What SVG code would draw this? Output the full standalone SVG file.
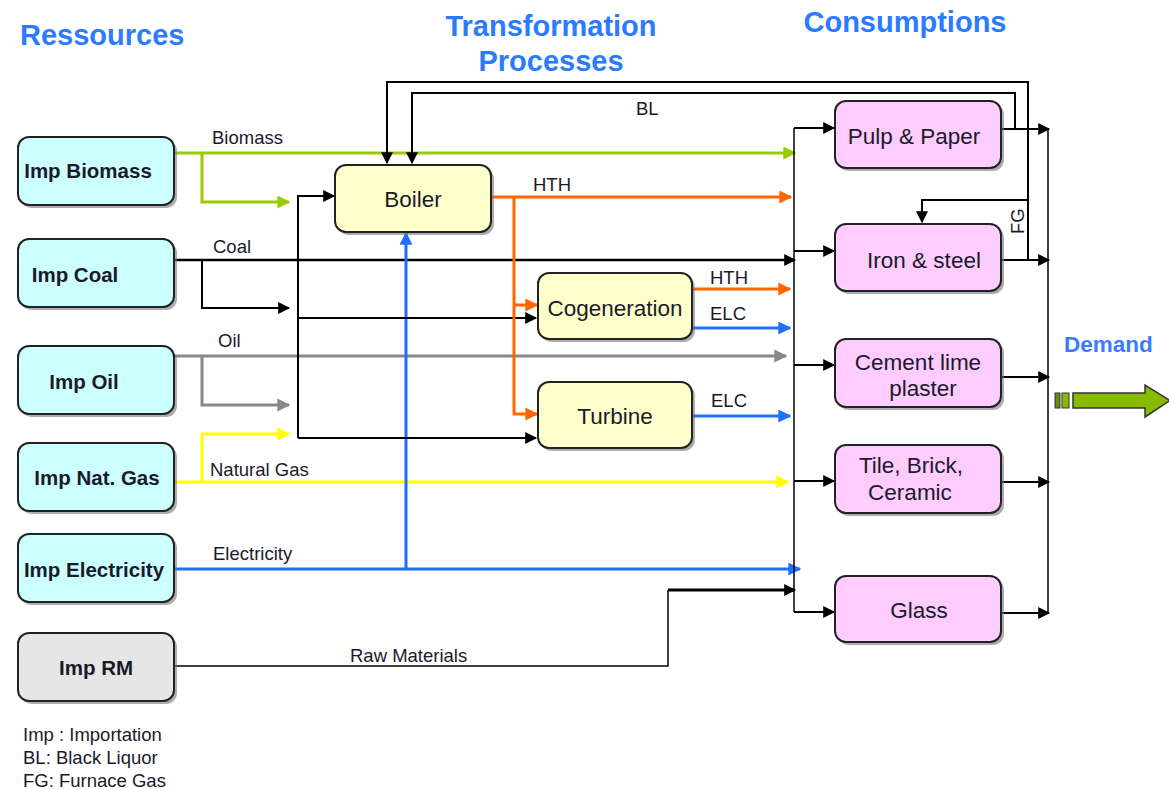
<svg xmlns="http://www.w3.org/2000/svg" width="1169" height="790" viewBox="0 0 1169 790">
  <style>
    text { font-family: "Liberation Sans", Arial, sans-serif; fill: #1a1a2a; }
    .title { font-size: 29px; font-weight: bold; fill: #2a7bff; }
    .src text, .srcrm text { font-size: 20.5px; font-weight: bold; text-anchor: middle; }
    .proc text, .cons text { font-size: 22.5px; text-anchor: middle; }
    .lbl { font-size: 18.5px; }
    .legend { font-size: 18.5px; }
    .box { stroke: #222; stroke-width: 2; }
    .shadow { fill: #777; opacity: 0.6; }
    .src .box { fill: #ccffff; }
    .srcrm .box { fill: #e6e6e6; }
    .proc .box { fill: #ffffcc; }
    .cons .box { fill: #ffccff; }
    .connectors path, .connectors line { fill: none; }
    .k { stroke: #000; stroke-width: 2; }
    .kt { stroke: #000; stroke-width: 1.5; }
    .g { stroke: #99cc00; stroke-width: 3; }
    .o { stroke: #ff6600; stroke-width: 3; }
    .b { stroke: #1f6fff; stroke-width: 3; }
    .y { stroke: #ffff00; stroke-width: 3; }
    .gr { stroke: #888; stroke-width: 3; }
  </style>
  <defs>
    <marker id="ak" viewBox="0 0 10 10" refX="9" refY="5" markerWidth="13" markerHeight="12" markerUnits="userSpaceOnUse" orient="auto"><path d="M0,0 L10,5 L0,10 z" fill="#000"/></marker>
    <marker id="ag" viewBox="0 0 10 10" refX="9" refY="5" markerWidth="13" markerHeight="13" markerUnits="userSpaceOnUse" orient="auto"><path d="M0,0 L10,5 L0,10 z" fill="#99cc00"/></marker>
    <marker id="ao" viewBox="0 0 10 10" refX="9" refY="5" markerWidth="13" markerHeight="13" markerUnits="userSpaceOnUse" orient="auto"><path d="M0,0 L10,5 L0,10 z" fill="#ff6600"/></marker>
    <marker id="ab" viewBox="0 0 10 10" refX="9" refY="5" markerWidth="13" markerHeight="13" markerUnits="userSpaceOnUse" orient="auto"><path d="M0,0 L10,5 L0,10 z" fill="#1f6fff"/></marker>
    <marker id="ay" viewBox="0 0 10 10" refX="9" refY="5" markerWidth="13" markerHeight="13" markerUnits="userSpaceOnUse" orient="auto"><path d="M0,0 L10,5 L0,10 z" fill="#ffff00"/></marker>
    <marker id="agr" viewBox="0 0 10 10" refX="9" refY="5" markerWidth="13" markerHeight="13" markerUnits="userSpaceOnUse" orient="auto"><path d="M0,0 L10,5 L0,10 z" fill="#888"/></marker>
  </defs>

  <rect width="1169" height="790" fill="#fff"/>

  <!-- column headings -->
  <text class="title" x="20" y="45">Ressources</text>
  <text class="title" x="551" y="36" text-anchor="middle">Transformation</text>
  <text class="title" x="551" y="71" text-anchor="middle">Processes</text>
  <text class="title" x="905" y="32" text-anchor="middle">Consumptions</text>
  <text x="1064" y="352" style="font-size:22.5px;font-weight:bold;fill:#3a7bff">Demand</text>

  <!-- connectors -->
  <g class="connectors">
    <!-- biomass -->
    <path class="g" d="M174,153 H795" marker-end="url(#ag)"/>
    <path class="g" d="M202,153 V202 H289" marker-end="url(#ag)"/>
    <!-- coal -->
    <path class="k" d="M174,260 H795" marker-end="url(#ak)" style="stroke-width:2.5"/>
    <path class="k" d="M202,260 V308 H289" marker-end="url(#ak)"/>
    <!-- oil -->
    <path class="gr" d="M174,356 H786" marker-end="url(#agr)"/>
    <path class="gr" d="M202,356 V405 H289" marker-end="url(#agr)"/>
    <!-- natural gas -->
    <path class="y" d="M174,482 H788" marker-end="url(#ay)"/>
    <path class="y" d="M202,482 V434 H289" marker-end="url(#ay)"/>
    <!-- electricity -->
    <path class="b" d="M174,569 H800" marker-end="url(#ab)"/>
    <path class="b" d="M406,569 V233" marker-end="url(#ab)"/>
    <!-- raw materials -->
    <path class="kt" d="M174,666 H668 V590"/>
    <path class="k" d="M668,590 H795" marker-end="url(#ak)" style="stroke-width:3"/>
    <!-- fuel collector to processes -->
    <path class="k" d="M298,438 V196 H334" marker-end="url(#ak)"/>
    <path class="k" d="M298,318 H536" marker-end="url(#ak)"/>
    <path class="k" d="M298,438 H536" marker-end="url(#ak)"/>
    <!-- boiler heat -->
    <path class="o" d="M491,197 H791" marker-end="url(#ao)"/>
    <path class="o" d="M514,197 V414 H537" marker-end="url(#ao)"/>
    <path class="o" d="M514,305 H537" marker-end="url(#ao)"/>
    <!-- cogeneration / turbine outputs -->
    <path class="o" d="M692,289 H790" marker-end="url(#ao)"/>
    <path class="b" d="M692,328 H790" marker-end="url(#ab)"/>
    <path class="b" d="M692,416 H790" marker-end="url(#ab)"/>
    <!-- furnace gas loop -->
    <path class="k" d="M1028,260 V82 H387 V163" marker-end="url(#ak)"/>
    <path class="k" d="M1028,200 H922 V222" marker-end="url(#ak)"/>
    <!-- black liquor loop -->
    <path class="k" d="M1015,129 V93 H412 V163" marker-end="url(#ak)"/>
    <!-- consumption inlet bus -->
    <path class="kt" d="M794,128 V612"/>
    <path class="k" d="M794,128 H834" marker-end="url(#ak)"/>
    <path class="k" d="M794,251 H834" marker-end="url(#ak)"/>
    <path class="k" d="M794,365 H834" marker-end="url(#ak)"/>
    <path class="k" d="M794,481 H834" marker-end="url(#ak)"/>
    <path class="k" d="M794,612 H834" marker-end="url(#ak)"/>
    <!-- consumption outlet bus -->
    <path class="kt" d="M1048,128 V612"/>
    <path class="k" d="M1001,129 H1049" marker-end="url(#ak)"/>
    <path class="k" d="M1001,260 H1049" marker-end="url(#ak)"/>
    <path class="k" d="M1001,377 H1049" marker-end="url(#ak)"/>
    <path class="k" d="M1001,482 H1049" marker-end="url(#ak)"/>
    <path class="k" d="M1001,613 H1049" marker-end="url(#ak)"/>
  </g>

  <!-- connector labels -->
  <g>
    <text class="lbl" x="212" y="144">Biomass</text>
    <text class="lbl" x="213" y="253">Coal</text>
    <text class="lbl" x="218" y="347">Oil</text>
    <text class="lbl" x="210" y="476">Natural Gas</text>
    <text class="lbl" x="213" y="560">Electricity</text>
    <text class="lbl" x="350" y="662">Raw Materials</text>
    <text class="lbl" x="533" y="191">HTH</text>
    <text class="lbl" x="636" y="115">BL</text>
    <text class="lbl" x="710" y="284">HTH</text>
    <text class="lbl" x="710" y="320">ELC</text>
    <text class="lbl" x="711" y="407">ELC</text>
    <text class="lbl" transform="translate(1024,234) rotate(-90)">FG</text>
  </g>

  <!-- resource nodes -->
  <g id="imp-biomass" class="src">
    <rect class="shadow" x="21" y="140" width="156" height="68" rx="11"/>
    <rect class="box" x="18" y="137" width="156" height="68" rx="11"/>
    <text x="88" y="178">Imp Biomass</text>
  </g>
  <g id="imp-coal" class="src">
    <rect class="shadow" x="21" y="242" width="156" height="68" rx="11"/>
    <rect class="box" x="18" y="239" width="156" height="68" rx="11"/>
    <text x="75" y="282">Imp Coal</text>
  </g>
  <g id="imp-oil" class="src">
    <rect class="shadow" x="21" y="349" width="156" height="68" rx="11"/>
    <rect class="box" x="18" y="346" width="156" height="68" rx="11"/>
    <text x="84" y="389">Imp Oil</text>
  </g>
  <g id="imp-natgas" class="src">
    <rect class="shadow" x="21" y="446" width="156" height="68" rx="11"/>
    <rect class="box" x="18" y="443" width="156" height="68" rx="11"/>
    <text x="97" y="485">Imp Nat. Gas</text>
  </g>
  <g id="imp-electricity" class="src">
    <rect class="shadow" x="21" y="537" width="156" height="68" rx="11"/>
    <rect class="box" x="18" y="534" width="156" height="68" rx="11"/>
    <text x="94" y="577">Imp Electricity</text>
  </g>
  <g id="imp-rm" class="srcrm">
    <rect class="shadow" x="21" y="636" width="156" height="68" rx="11"/>
    <rect class="box" x="18" y="633" width="156" height="68" rx="11"/>
    <text x="96" y="675">Imp RM</text>
  </g>

  <!-- transformation nodes -->
  <g id="boiler" class="proc">
    <rect class="shadow" x="338" y="168" width="156" height="67" rx="11"/>
    <rect class="box" x="335" y="165" width="156" height="67" rx="11"/>
    <text x="413" y="207">Boiler</text>
  </g>
  <g id="cogeneration" class="proc">
    <rect class="shadow" x="541" y="276" width="154" height="66" rx="11"/>
    <rect class="box" x="538" y="273" width="154" height="66" rx="11"/>
    <text x="615" y="316">Cogeneration</text>
  </g>
  <g id="turbine" class="proc">
    <rect class="shadow" x="541" y="385" width="154" height="66" rx="11"/>
    <rect class="box" x="538" y="382" width="154" height="66" rx="11"/>
    <text x="615" y="424">Turbine</text>
  </g>

  <!-- consumption nodes -->
  <g id="pulp-paper" class="cons">
    <rect class="shadow" x="838" y="104" width="166" height="67" rx="11"/>
    <rect class="box" x="835" y="101" width="166" height="67" rx="11"/>
    <text x="914" y="144">Pulp &amp; Paper</text>
  </g>
  <g id="iron-steel" class="cons">
    <rect class="shadow" x="838" y="227" width="166" height="67" rx="11"/>
    <rect class="box" x="835" y="224" width="166" height="67" rx="11"/>
    <text x="924" y="268">Iron &amp; steel</text>
  </g>
  <g id="cement" class="cons">
    <rect class="shadow" x="838" y="342" width="166" height="68" rx="11"/>
    <rect class="box" x="835" y="339" width="166" height="68" rx="11"/>
    <text x="918" y="370">Cement lime</text>
    <text x="923" y="396">plaster</text>
  </g>
  <g id="tile-brick" class="cons">
    <rect class="shadow" x="838" y="448" width="166" height="68" rx="11"/>
    <rect class="box" x="835" y="445" width="166" height="68" rx="11"/>
    <text x="911" y="473">Tile, Brick,</text>
    <text x="910" y="500">Ceramic</text>
  </g>
  <g id="glass" class="cons">
    <rect class="shadow" x="838" y="579" width="166" height="66" rx="11"/>
    <rect class="box" x="835" y="576" width="166" height="66" rx="11"/>
    <text x="919" y="618">Glass</text>
  </g>

  <!-- demand arrow -->
  <g id="demand">
    <rect x="1055" y="393" width="5" height="15" fill="#6b8e00" stroke="#333" stroke-width="1"/>
    <rect x="1062" y="393" width="7" height="15" fill="#88bb00" stroke="#333" stroke-width="1"/>
    <path d="M1073,393 H1145 V385 L1170,400.5 L1145,417 V408 H1073 Z" fill="#88bb00" stroke="#333" stroke-width="1.5"/>
  </g>

  <!-- legend -->
  <text class="legend" x="23" y="741">Imp : Importation</text>
  <text class="legend" x="23" y="764">BL: Black Liquor</text>
  <text class="legend" x="23" y="787">FG: Furnace Gas</text>
</svg>
